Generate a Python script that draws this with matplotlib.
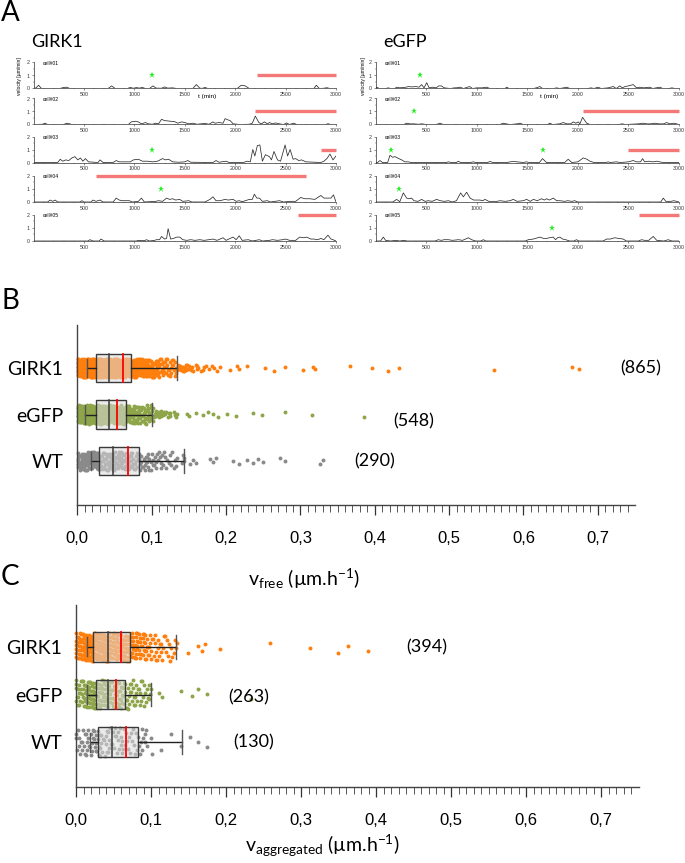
import matplotlib
matplotlib.use("Agg")
import matplotlib.pyplot as plt
import numpy as np
from matplotlib.patches import Rectangle

# ---------------- panel A : velocity traces (t in min, v in um/min) ----------------
gk1 = [(0, 0), (25, 0.05), (50, 0.25), (80, 0), (260, 0), (300, 0.08), (330, 0.1), (360, 0), (740, 0), (775, 0.2),
       (810, 0), (930, 0), (960, 0.08), (990, 0.02), (1020, 0.07), (1050, 0.03), (1080, 0.08), (1110, 0), (1150, 0),
       (1185, 0.2), (1215, 0.03), (1270, 0.02), (1300, 0.12), (1330, 0.03), (1380, 0.05), (1420, 0), (1580, 0),
       (1615, 0.3), (1650, 0.02), (1680, 0.02), (1700, 0.08), (1730, 0), (2020, 0), (2060, 0.25), (2100, 0.2),
       (2140, 0), (2780, 0), (2805, 0.25), (2835, 0), (2880, 0.02), (2910, 0.06), (2940, 0), (3000, 0)]
gk2 = [(0, 0), (90, 0.02), (115, 0.1), (140, 0), (300, 0), (330, 0.1), (360, 0.05), (380, 0), (940, 0), (970, 0.2),
       (1010, 0.25), (1040, 0.2), (1070, 0.05), (1110, 0.15), (1140, 0.05), (1180, 0.02), (1210, 0.1), (1240, 0.05),
       (1270, 0.4), (1300, 0.3), (1360, 0.25), (1400, 0.22), (1430, 0.1), (1470, 0.2), (1500, 0.15), (1540, 0.05),
       (1580, 0.1), (1620, 0.02), (1700, 0.08), (1740, 0.02), (1780, 0.2), (1800, 0.1), (1840, 0.15), (1880, 0.1),
       (1900, 0.45), (1930, 0.35), (1950, 0.3), (1980, 0.05), (2050, 0), (2140, 0.02), (2170, 0.1), (2200, 0.65),
       (2235, 0.15), (2260, 0.05), (2290, 0.2), (2320, 0.05), (2340, 0.15), (2370, 0.05), (2400, 0.12), (2440, 0.05),
       (2480, 0), (2510, 0.12), (2540, 0), (2580, 0.1), (2610, 0), (2900, 0), (2920, 0.06), (2950, 0), (3000, 0)]
gk3 = [(0, 0), (240, 0), (265, 0.25), (290, 0.1), (320, 0.2), (350, 0.15), (380, 0.35), (410, 0.45), (440, 0.2),
       (465, 0.35), (490, 0.1), (515, 0.3), (545, 0.05), (640, 0), (660, 0.2), (690, 0), (790, 0), (820, 0.15),
       (850, 0.05), (960, 0.05), (990, 0.2), (1040, 0.25), (1080, 0.1), (1130, 0.1), (1180, 0.05), (1230, 0.1),
       (1280, 0.3), (1310, 0.2), (1340, 0.25), (1380, 0.05), (1440, 0.02), (1500, 0.05), (1530, 0.15), (1560, 0.02),
       (1780, 0), (1810, 0.15), (1840, 0.02), (1910, 0.1), (1940, 0), (2080, 0), (2120, 0.1), (2150, 0.05),
       (2175, 1.0), (2195, 0.5), (2220, 1.3), (2245, 1.35), (2270, 0.1), (2300, 0.6), (2340, 0.45), (2360, 0.2),
       (2385, 0.85), (2420, 0.2), (2450, 0.1), (2495, 1.35), (2520, 0.5), (2545, 1.0), (2575, 0.25), (2600, 0.3),
       (2630, 0.15), (2660, 0.2), (2700, 0.05), (2850, 0), (2880, 0.1), (2910, 0.3), (2940, 0.65), (2970, 0.2),
       (3000, 0.5)]
gk4 = [(0, 0), (140, 0), (165, 0.15), (190, 0.05), (215, 0.15), (240, 0), (460, 0), (480, 0.1), (500, 0), (570, 0),
       (590, 0.15), (620, 0.05), (660, 0.15), (690, 0), (790, 0), (820, 0.3), (850, 0.15), (880, 0.1), (950, 0.1),
       (980, 0), (1040, 0.05), (1070, 0.3), (1100, 0), (1210, 0.05), (1240, 0.1), (1280, 0.05), (1320, 0.3),
       (1350, 0.2), (1380, 0.25), (1410, 0.15), (1450, 0.2), (1480, 0.05), (1540, 0.1), (1570, 0), (1700, 0),
       (1750, 0.2), (1780, 0.4), (1810, 0.1), (1850, 0.1), (1900, 0.2), (1930, 0.15), (1980, 0.2), (2010, 0.05),
       (2040, 0.1), (2070, 0.02), (2140, 0.2), (2170, 0.2), (2190, 0.6), (2215, 0.3), (2240, 0.3), (2270, 0.05),
       (2320, 0.1), (2350, 0), (2440, 0.1), (2480, 0), (2540, 0.05), (2600, 0.05), (2650, 0.35), (2690, 0.25),
       (2740, 0.25), (2790, 0.2), (2850, 0.5), (2880, 0.3), (2920, 0.3), (2950, 0.3), (2975, 0.55), (3000, 0)]
gk5 = [(0, 0), (540, 0), (560, 0.1), (590, 0), (650, 0), (670, 0.15), (700, 0), (1020, 0), (1040, 0.05), (1100, 0.02),
       (1120, 0.1), (1150, 0), (1200, 0.05), (1220, 0.1), (1250, 0.1), (1270, 0.35), (1300, 0.15), (1320, 0.2),
       (1335, 0.95), (1360, 0.15), (1390, 0.2), (1420, 0.3), (1450, 0.3), (1480, 0.1), (1520, 0.05), (1560, 0.1),
       (1600, 0.05), (1650, 0.1), (1690, 0.05), (1740, 0.1), (1780, 0.15), (1820, 0.05), (1880, 0.25), (1910, 0.05),
       (1950, 0.2), (1980, 0.3), (2010, 0.1), (2040, 0.4), (2070, 0.05), (2130, 0.1), (2170, 0), (2240, 0.1),
       (2270, 0), (2340, 0.05), (2370, 0.1), (2420, 0.05), (2470, 0.1), (2500, 0.15), (2540, 0.05), (2600, 0.05),
       (2640, 0.3), (2680, 0.25), (2710, 0.3), (2750, 0.15), (2780, 0.15), (2820, 0.1), (2850, 0.2), (2880, 0.1),
       (2920, 0.45), (2950, 0.15), (2970, 0.1), (3000, 0)]

eg1 = [(0, 0), (10, 0.1), (40, 0), (100, 0), (127, 0.05), (150, 0), (190, 0), (210, 0.1), (240, 0.05), (300, 0.1),
       (330, 0.15), (360, 0.12), (400, 0.15), (430, 0.1), (456, 0.3), (480, 0.05), (506, 0.45), (530, 0.05),
       (560, 0.1), (600, 0.05), (625, 0.2), (650, 0.2), (680, 0.05), (740, 0), (780, 0.05), (800, 0.05), (835, 0.1),
       (870, 0), (930, 0.15), (960, 0), (1000, 0.05), (1050, 0.05), (1100, 0.1), (1130, 0), (1280, 0), (1296, 0.1),
       (1320, 0), (1560, 0), (1590, 0.05), (1625, 0.15), (1650, 0), (1760, 0), (1790, 0.05), (1820, 0), (1860, 0.05),
       (1890, 0.1), (1920, 0), (2100, 0), (2130, 0.05), (2160, 0), (2200, 0.1), (2230, 0), (2300, 0.05), (2350, 0.15),
       (2380, 0), (2415, 0.2), (2440, 0.05), (2465, 0.15), (2500, 0.2), (2548, 0.3), (2580, 0.05), (2613, 0.1),
       (2650, 0.05), (2712, 0.1), (2740, 0), (2810, 0.1), (2840, 0), (2900, 0), (2930, 0.05), (2960, 0), (3000, 0)]
eg2 = [(0, 0), (280, 0), (308, 0.1), (340, 0.05), (380, 0.05), (420, 0.02), (460, 0.05), (500, 0), (600, 0),
       (637, 0.1), (670, 0), (1230, 0), (1263, 0.1), (1290, 0.05), (1330, 0), (1400, 0.05), (1428, 0.1), (1460, 0),
       (1700, 0), (1724, 0.1), (1750, 0), (1820, 0.05), (1856, 0.15), (1890, 0.05), (1930, 0.05), (1955, 0.2),
       (1980, 0.1), (2005, 0.2), (2020, 0.05), (2047, 0.55), (2087, 0.1), (2120, 0), (2400, 0), (2440, 0.05),
       (2470, 0), (2600, 0.05), (2646, 0.1), (2680, 0.05), (2720, 0.05), (2760, 0.1), (2800, 0.05), (2850, 0.05),
       (2877, 0.15), (2910, 0.05), (2950, 0.1), (3000, 0)]
eg3 = [(0, 0), (20, 0), (44, 0.15), (70, 0), (120, 0), (143, 0.55), (170, 0.4), (193, 0.45), (230, 0.3), (259, 0.2),
       (290, 0.05), (325, 0.05), (350, 0), (700, 0), (720, 0.05), (750, 0), (800, 0), (819, 0.1), (840, 0), (940, 0),
       (966, 0.05), (990, 0), (1110, 0), (1131, 0.08), (1160, 0), (1300, 0), (1330, 0.05), (1362, 0.08), (1400, 0.05),
       (1460, 0), (1490, 0.05), (1520, 0), (1620, 0), (1651, 0.3), (1690, 0), (1870, 0), (1905, 0.25), (1940, 0),
       (2000, 0.05), (2054, 0.35), (2090, 0.25), (2120, 0.1), (2160, 0), (2280, 0), (2300, 0.05), (2320, 0),
       (2380, 0.05), (2420, 0), (2500, 0.05), (2547, 0.15), (2580, 0.05), (2620, 0.05), (2640, 0.3), (2660, 0.05),
       (2700, 0.1), (2740, 0.05), (2780, 0.1), (2810, 0.05), (2840, 0), (3000, 0)]
eg4 = [(0, 0), (170, 0), (209, 0.2), (240, 0.02), (275, 0.7), (308, 0.3), (330, 0.25), (357, 0.3), (380, 0.1),
       (420, 0.05), (456, 0.2), (490, 0.05), (520, 0.1), (560, 0.05), (604, 0.2), (640, 0.1), (680, 0.05), (720, 0.1),
       (760, 0), (800, 0.1), (842, 0.7), (868, 0.4), (901, 0.75), (935, 0.3), (970, 0.15), (1032, 0.15), (1060, 0.1),
       (1082, 0.2), (1120, 0.05), (1200, 0.05), (1230, 0.1), (1280, 0.05), (1330, 0.1), (1362, 0.2), (1400, 0.05),
       (1460, 0.1), (1494, 0.2), (1530, 0.05), (1560, 0.2), (1600, 0.1), (1640, 0.25), (1670, 0.15), (1690, 0.25),
       (1720, 0.15), (1757, 0.3), (1790, 0.1), (1822, 0.1), (1870, 0.05), (1900, 0.1), (1940, 0.05), (1970, 0.1),
       (2000, 0), (2820, 0), (2844, 0.3), (2870, 0.05), (2920, 0.05), (2950, 0.1), (3000, 0)]
eg5 = [(0, 0), (50, 0), (77, 0.3), (100, 0.05), (150, 0), (200, 0.05), (240, 0), (280, 0.05), (310, 0), (590, 0),
       (620, 0.1), (650, 0.05), (680, 0.1), (720, 0.1), (760, 0.05), (820, 0.1), (860, 0.05), (890, 0.15),
       (918, 0.25), (950, 0.1), (990, 0), (1040, 0), (1066, 0.1), (1090, 0), (1480, 0), (1511, 0.1), (1560, 0.15),
       (1625, 0.3), (1660, 0.2), (1691, 0.2), (1720, 0.25), (1757, 0.3), (1780, 0.1), (1800, 0.25), (1822, 0.3),
       (1850, 0.15), (1880, 0.1), (1920, 0), (1960, 0), (1987, 0.1), (2010, 0), (2250, 0), (2284, 0.15), (2320, 0.15),
       (2366, 0.25), (2400, 0.2), (2448, 0.15), (2480, 0), (2600, 0), (2630, 0.1), (2660, 0.05), (2700, 0.05),
       (2745, 0.35), (2780, 0.05), (2850, 0), (2893, 0.1), (2930, 0), (3000, 0)]

gk_traces = [gk1, gk2, gk3, gk4, gk5]
eg_traces = [eg1, eg2, eg3, eg4, eg5]
cell_names = ['cell#01', 'cell#02', 'cell#03', 'cell#04', 'cell#05']
# green stars (t) and red bars (t start, t end, level)
gk_stars = [[1180], [], [1180], [1260], []]
eg_stars = [[440], [380], [150, 1660], [230], [1740]]
gk_bars = [(2220, 3000, 1), (2200, 3000, 1), (2850, 3000, 1), (620, 2700, 2), (2620, 3000, 2)]
eg_bars = [None, (2050, 3000, 1), (2500, 3000, 1), None, (2600, 3000, 2)]

# ---------------- panels B and C : velocities ----------------
groups = ['GIRK1', 'eGFP', 'WT']
# values read at 0.005 resolution (bin centres) + counts per bin, then the isolated points
bin_v = [0.000, 0.005, 0.010, 0.015, 0.020, 0.025, 0.030, 0.035, 0.040, 0.045, 0.050, 0.055, 0.060, 0.065,
         0.070, 0.075, 0.080, 0.085, 0.090, 0.095, 0.100, 0.105, 0.110, 0.115, 0.120, 0.125, 0.130, 0.135,
         0.140, 0.145, 0.150, 0.155, 0.160, 0.165, 0.170, 0.175, 0.180, 0.185, 0.190]

b_girk_n = [15, 35, 45, 55, 55, 45, 45, 45, 45, 40, 38, 35, 32, 30, 28, 25, 22, 20, 18, 16, 14, 12, 11, 10, 9, 8,
            7, 6, 5, 5, 4, 3, 3, 2, 2, 2, 1, 1, 2]
b_girk_out = [0.205, 0.215, 0.217, 0.228, 0.252, 0.264, 0.279, 0.304, 0.317, 0.319, 0.367, 0.396, 0.418, 0.432,
              0.560, 0.665, 0.675]
b_egfp_n = [10, 25, 30, 35, 35, 32, 32, 32, 30, 28, 26, 24, 22, 18, 16, 14, 12, 11, 10, 9, 8, 6, 5, 4, 3, 3, 2, 2]
b_egfp_out = [0.147, 0.150, 0.160, 0.169, 0.176, 0.183, 0.189, 0.201, 0.214, 0.236, 0.248, 0.279, 0.315, 0.386]
b_wt_n = [6, 12, 14, 16, 16, 14, 12, 12, 12, 12, 11, 10, 10, 9, 9, 8, 8, 7, 6, 6, 5, 5, 4, 4, 3, 3, 3, 2, 2, 2]
b_wt_out = [0.151, 0.156, 0.160, 0.178, 0.183, 0.187, 0.209, 0.218, 0.228, 0.236, 0.243, 0.250, 0.272, 0.279,
            0.326, 0.330]

c_girk_n = [8, 16, 20, 24, 24, 20, 20, 20, 20, 18, 17, 16, 15, 14, 13, 12, 11, 10, 9, 8, 7, 6, 5, 5, 4, 3, 3, 2]
c_girk_out = [0.149, 0.163, 0.168, 0.172, 0.192, 0.259, 0.312, 0.349, 0.363, 0.389]
c_egfp_n = [5, 10, 13, 15, 15, 14, 14, 14, 14, 13, 12, 11, 10, 9, 8, 7, 6, 5, 5, 4, 3]
c_egfp_out = [0.110, 0.114, 0.140, 0.155, 0.162, 0.175, 0.233]
c_wt_n = [3, 5, 6, 7, 7, 6, 6, 6, 6, 6, 5, 5, 5, 4, 4, 4, 4, 4, 3, 3, 2]
c_wt_out = [0.113, 0.127, 0.140, 0.152, 0.162, 0.175]

# box statistics  [GIRK1, eGFP, WT]
b_q1 = [0.025, 0.0255, 0.0296]
b_med = [0.043, 0.043, 0.048]
b_mean = [0.062, 0.054, 0.0678]
b_q3 = [0.072, 0.0655, 0.0833]
b_lo = [0.0134, 0.010, 0.018]
b_hi = [0.134, 0.100, 0.143]
b_counts = ['(865)', '(548)', '(290)']

c_q1 = [0.023, 0.026, 0.029]
c_med = [0.042, 0.042, 0.048]
c_mean = [0.060, 0.053, 0.066]
c_q3 = [0.072, 0.065, 0.083]
c_lo = [0.015, 0.015, 0.0187]
c_hi = [0.133, 0.0996, 0.141]
c_counts = ['(394)', '(263)', '(130)']

dot_colors = ['#ff7f0e', '#8ea54a', '#8a8a8a']

plt.rcParams['font.family'] = ['Liberation Sans', 'DejaVu Sans']
plt.rcParams['mathtext.default'] = 'regular'

W, H = 685.0, 863.0
fig = plt.figure(figsize=(W / 100, H / 100), dpi=100)


def px_axes(x0, y_top, x1, y_bot):
    return fig.add_axes([x0 / W, 1 - y_bot / H, (x1 - x0) / W, (y_bot - y_top) / H])


unit = 13.0
zero_rows = [88.5, 124.5, 162.5, 202.0, 241.0]


def trace_axes(x0, x1, y0, pts, name, stars, bar, first):
    ax = px_axes(x0, y0 - 2.25 * unit, x1, y0)
    t = [p[0] for p in pts]
    v = [p[1] for p in pts]
    ax.plot(t, v, color='#2b2b2b', lw=0.55)
    for s in stars:
        ax.plot(s, 1, marker='*', color='#22ee22', ms=4.5, mew=0, clip_on=False)
    if bar is not None:
        ax.plot([bar[0], bar[1]], [bar[2], bar[2]], color='#f47878', lw=2.4, solid_capstyle='butt', clip_on=False)
    ax.text(90, 1.95, name, fontsize=3.6, va='center', ha='left')
    ax.set_xlim(0, 3000)
    ax.set_ylim(0, 2.25)
    ax.spines['top'].set_visible(False)
    ax.spines['right'].set_visible(False)
    ax.spines['left'].set_bounds(0, 2)
    for sp in ['left', 'bottom']:
        ax.spines[sp].set_linewidth(0.5)
        ax.spines[sp].set_color('#333333')
    ax.set_xticks([500, 1000, 1500, 2000, 2500, 3000])
    ax.set_xticks(np.arange(100, 3000, 100), minor=True)
    ax.set_yticks([0, 1, 2])
    ax.set_yticks([0.5, 1.5], minor=True)
    ax.tick_params(axis='both', which='major', labelsize=3.8, length=1.6, width=0.4, pad=1.2, colors='#333333')
    ax.tick_params(axis='both', which='minor', length=1.0, width=0.3, colors='#333333')
    ax.patch.set_alpha(0)
    if first:
        ax.text(1720, -0.63, 't (min)', fontsize=4.6, ha='center', va='center')
    return ax


for i in range(5):
    trace_axes(33.5, 336.0, zero_rows[i], gk_traces[i], cell_names[i], gk_stars[i], gk_bars[i], i == 0)
    trace_axes(375.5, 679.0, zero_rows[i], eg_traces[i], cell_names[i], eg_stars[i], eg_bars[i], i == 0)

fig.text(20 / W, 1 - 76 / H, 'velocity [µm/min]', rotation=90, fontsize=3.6, ha='center', va='center')
fig.text(363 / W, 1 - 76 / H, 'velocity [µm/min]', rotation=90, fontsize=3.6, ha='center', va='center')
fig.text(31 / W, 1 - 42 / H, 'GIRK1', fontsize=13, family=['Lato', 'DejaVu Sans'], va='center')
fig.text(383 / W, 1 - 42 / H, 'eGFP', fontsize=13, family=['Lato', 'DejaVu Sans'], va='center')

for lab, y in [('A', 13), ('B', 301), ('C', 577)]:
    fig.text(1 / W, 1 - y / H, lab, fontsize=20, family=['Lato', 'DejaVu Sans'], va='center', ha='left')


def box_panel(ax, counts_list, out_list, q1, med, mean, q3, lo, hi, count_txt, count_pos, bulk_amp, tail_amp):
    rows = [3, 2, 1]
    k0 = 0
    for g in range(3):
        n_bulk = int(np.sum(counts_list[g]))
        vals = np.concatenate([np.repeat(bin_v[:len(counts_list[g])], counts_list[g]), out_list[g]])
        k = np.arange(len(vals)) + k0 + 1
        k0 += len(vals)
        # quasi-random spread: vertical strip jitter, and spread inside the 0.005 reading bin
        amp = np.where(vals > hi[g], tail_amp, bulk_amp)
        off_y = ((k * 0.5698402910) % 1.0 - 0.5) * 2 * amp
        off_x = ((k * 0.7548776662) % 1.0 - 0.5) * 0.005
        off_x[n_bulk:] = 0
        xs = np.clip(vals + off_x, 0.0005, None)
        ax.scatter(xs, rows[g] + off_y, s=8, color=dot_colors[g], linewidths=0, zorder=2, clip_on=False)
        y = rows[g]
        hb = 0.31
        ax.add_patch(Rectangle((q1[g], y - hb), q3[g] - q1[g], 2 * hb, facecolor=(0.86, 0.86, 0.86, 0.55),
                               edgecolor='#3a3a3a', lw=1.0, zorder=3))
        ax.plot([lo[g], q1[g]], [y, y], color='#202020', lw=1.0, zorder=4)
        ax.plot([q3[g], hi[g]], [y, y], color='#202020', lw=1.0, zorder=4)
        ax.plot([lo[g], lo[g]], [y - 0.2, y + 0.2], color='#555555', lw=1.0, zorder=4)
        ax.plot([hi[g], hi[g]], [y - 0.25, y + 0.25], color='#555555', lw=1.0, zorder=4)
        ax.plot([med[g], med[g]], [y - hb, y + hb], color='#3a3a3a', lw=1.1, zorder=5)
        ax.plot([mean[g], mean[g]], [y - hb, y + hb], color='#ff0000', lw=1.3, zorder=5)
        ax.text(count_pos[g][0], count_pos[g][1], count_txt[g], fontsize=13, family=['Lato', 'DejaVu Sans'],
                ha='left', va='center', clip_on=False)
    ax.set_xlim(0, 0.75)
    ax.set_yticks(rows)
    ax.set_yticklabels(groups, fontsize=14, family=['Lato', 'DejaVu Sans'])
    ax.tick_params(axis='y', length=0, pad=10)
    ax.set_xticks([0.0, 0.1, 0.2, 0.3, 0.4, 0.5, 0.6, 0.7])
    ax.set_xticklabels(['0,0', '0,1', '0,2', '0,3', '0,4', '0,5', '0,6', '0,7'], fontsize=12)
    ax.set_xticks(np.arange(0.01, 0.75, 0.01), minor=True)
    ax.tick_params(axis='x', which='major', length=7, width=0.9, colors='#333333', pad=12)
    ax.tick_params(axis='x', which='minor', length=5, width=0.7, colors='#555555')
    ax.tick_params(axis='x', labelcolor='black')
    ax.spines['top'].set_visible(False)
    ax.spines['right'].set_visible(False)
    for sp in ['left', 'bottom']:
        ax.spines[sp].set_linewidth(1.0)
        ax.spines[sp].set_color('#444444')


axB = px_axes(77.3, 325, 635.0, 505)
axB.set_ylim(0.054, 3.925)
box_panel(axB, [b_girk_n, b_egfp_n, b_wt_n], [b_girk_out, b_egfp_out, b_wt_out], b_q1, b_med, b_mean, b_q3,
          b_lo, b_hi, b_counts, [(0.73, 3.0), (0.425, 1.85), (0.372, 1.0)], 0.2, 0.07)
fig.text(248 / W, 1 - 579 / H, r'v$_{free}$ (µm.h$^{-1}$)', fontsize=14, family=['Lato', 'DejaVu Sans'],
         ha='left', va='center')

axC = px_axes(76.0, 605, 638.5, 787)
axC.set_ylim(0.053, 3.884)
box_panel(axC, [c_girk_n, c_egfp_n, c_wt_n], [c_girk_out, c_egfp_out, c_wt_out], c_q1, c_med, c_mean, c_q3,
          c_lo, c_hi, c_counts, [(0.44, 3.0), (0.203, 1.93), (0.209, 1.0)], 0.3, 0.12)
fig.text(245 / W, 1 - 846 / H, r'v$_{aggregated}$ (µm.h$^{-1}$)', fontsize=14, family=['Lato', 'DejaVu Sans'],
         ha='left', va='center')

fig.savefig('out.png', dpi=100)
